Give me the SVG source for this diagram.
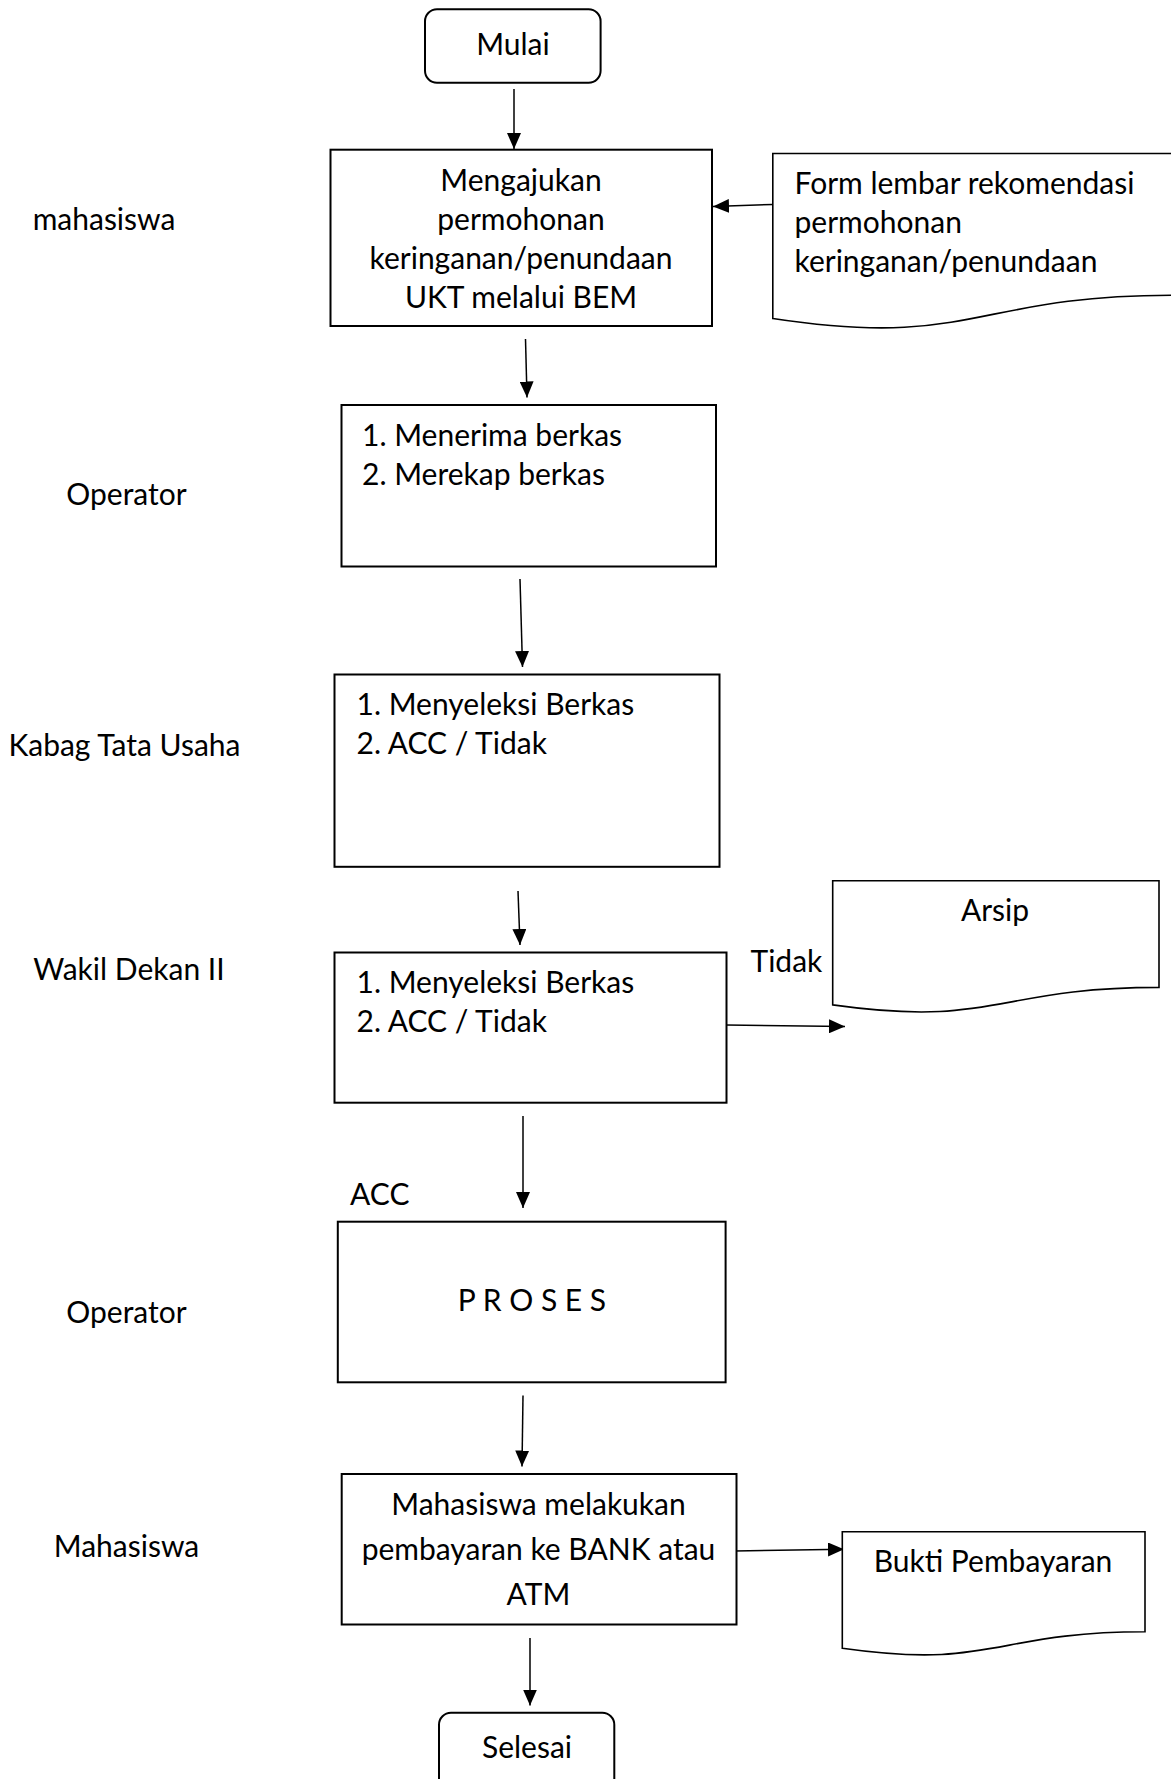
<svg xmlns="http://www.w3.org/2000/svg" width="1171" height="1779" viewBox="0 0 1171 1779">
  <style>
    .box { fill: #ffffff; stroke: #000000; stroke-width: 2; }
    .doc { fill: #ffffff; stroke: #000000; stroke-width: 1.6; }
    .edge { fill: none; stroke: #000000; stroke-width: 1.5; marker-end: url(#head); }
    text { font-family: Lato, "Open Sans", "Liberation Sans", sans-serif; font-size: 30px; fill: #000000; }
    .mid { text-anchor: middle; }
    .role { text-anchor: middle; }
  </style>
  <defs>
    <marker id="head" markerUnits="userSpaceOnUse" markerWidth="17" markerHeight="14" refX="16" refY="7" orient="auto">
      <path d="M0,0 L16,7 L0,14 Z" fill="#000000"/>
    </marker>
  </defs>

  <rect width="1171" height="1779" fill="#ffffff"/>

  <!-- role labels on the left -->
  <g id="roles">
    <text class="role" x="104" y="230">mahasiswa</text>
    <text class="role" x="126.5" y="504.5">Operator</text>
    <text class="role" x="124.5" y="756">Kabag Tata Usaha</text>
    <text class="role" x="129" y="980">Wakil Dekan II</text>
    <text class="role" x="126.5" y="1323">Operator</text>
    <text class="role" x="126.5" y="1557">Mahasiswa</text>
  </g>

  <!-- connectors -->
  <g id="connectors">
    <line class="edge" x1="514" y1="89" x2="514" y2="149"/>
    <line class="edge" x1="772.8" y1="204.5" x2="713" y2="206.5"/>
    <line class="edge" x1="525.5" y1="339" x2="527" y2="397.5"/>
    <line class="edge" x1="520" y1="579" x2="522.5" y2="667"/>
    <line class="edge" x1="518" y1="891" x2="520" y2="945"/>
    <line class="edge" x1="726" y1="1025" x2="845" y2="1026.5"/>
    <line class="edge" x1="523" y1="1116" x2="523" y2="1208"/>
    <line class="edge" x1="523" y1="1395.5" x2="522" y2="1466.5"/>
    <line class="edge" x1="734.5" y1="1551" x2="844" y2="1549.3"/>
    <line class="edge" x1="530" y1="1638" x2="530" y2="1705.5"/>
  </g>

  <!-- start terminator -->
  <g id="mulai">
    <rect class="box" x="425" y="9.3" width="175.6" height="73.4" rx="12" ry="12"/>
    <text class="mid" x="513" y="55">Mulai</text>
  </g>

  <!-- submission by student -->
  <g id="pengajuan">
    <rect class="box" x="330.5" y="149.7" width="381.5" height="176.3"/>
    <text class="mid" x="521" y="191">Mengajukan</text>
    <text class="mid" x="521" y="230">permohonan</text>
    <text class="mid" x="521" y="269">keringanan/penundaan</text>
    <text class="mid" x="521" y="308">UKT melalui BEM</text>
  </g>

  <!-- recommendation form document -->
  <g id="form">
    <path class="doc" d="M772.8,153.5 H1174 V295.2 C973,295.2 973,349.1 772.8,318.5 Z"/>
    <text x="794.5" y="194">Form lembar rekomendasi</text>
    <text x="794.5" y="233">permohonan</text>
    <text x="794.5" y="272">keringanan/penundaan</text>
  </g>

  <!-- operator receives files -->
  <g id="operator-terima">
    <rect class="box" x="341.5" y="405" width="374.5" height="161.5"/>
    <text x="362" y="446">1. Menerima berkas</text>
    <text x="362" y="485">2. Merekap berkas</text>
  </g>

  <!-- head of administration review -->
  <g id="kabag">
    <rect class="box" x="334.5" y="674.5" width="385" height="192.3"/>
    <text x="356.5" y="715">1. Menyeleksi Berkas</text>
    <text x="356.5" y="754">2. ACC / Tidak</text>
  </g>

  <!-- vice dean review -->
  <g id="wadek">
    <rect class="box" x="334.5" y="952.5" width="392" height="150.2"/>
    <text x="356.5" y="992.5">1. Menyeleksi Berkas</text>
    <text x="356.5" y="1031.5">2. ACC / Tidak</text>
  </g>

  <!-- rejected branch -->
  <g id="arsip">
    <path class="doc" d="M832.7,880.7 H1159 V987.4 C995.8,987.4 995.8,1027.9 832.7,1004.9 Z"/>
    <text class="mid" x="995" y="920.5">Arsip</text>
  </g>
  <text id="label-tidak" x="750.5" y="971.5">Tidak</text>
  <text id="label-acc" x="350" y="1205">ACC</text>

  <!-- processing -->
  <g id="proses">
    <rect class="box" x="337.8" y="1221.7" width="387.8" height="160.6"/>
    <text class="mid" x="532" y="1310.7">P R O S E S</text>
  </g>

  <!-- payment -->
  <g id="pembayaran">
    <rect class="box" x="341.7" y="1474" width="394.8" height="150.5"/>
    <text class="mid" x="538.5" y="1515">Mahasiswa melakukan</text>
    <text class="mid" x="538.5" y="1559.5">pembayaran ke BANK atau</text>
    <text class="mid" x="538.5" y="1605">ATM</text>
  </g>

  <!-- payment receipt document -->
  <g id="bukti">
    <path class="doc" d="M842.3,1531.7 H1145 V1631.8 C993.6,1631.8 993.6,1669.8 842.3,1648.3 Z"/>
    <text class="mid" x="993" y="1571.7">Bukti Pembayaran</text>
  </g>

  <!-- end terminator -->
  <g id="selesai">
    <rect class="box" x="439" y="1712.7" width="175.3" height="90" rx="12" ry="12"/>
    <text class="mid" x="527" y="1758">Selesai</text>
  </g>
</svg>
